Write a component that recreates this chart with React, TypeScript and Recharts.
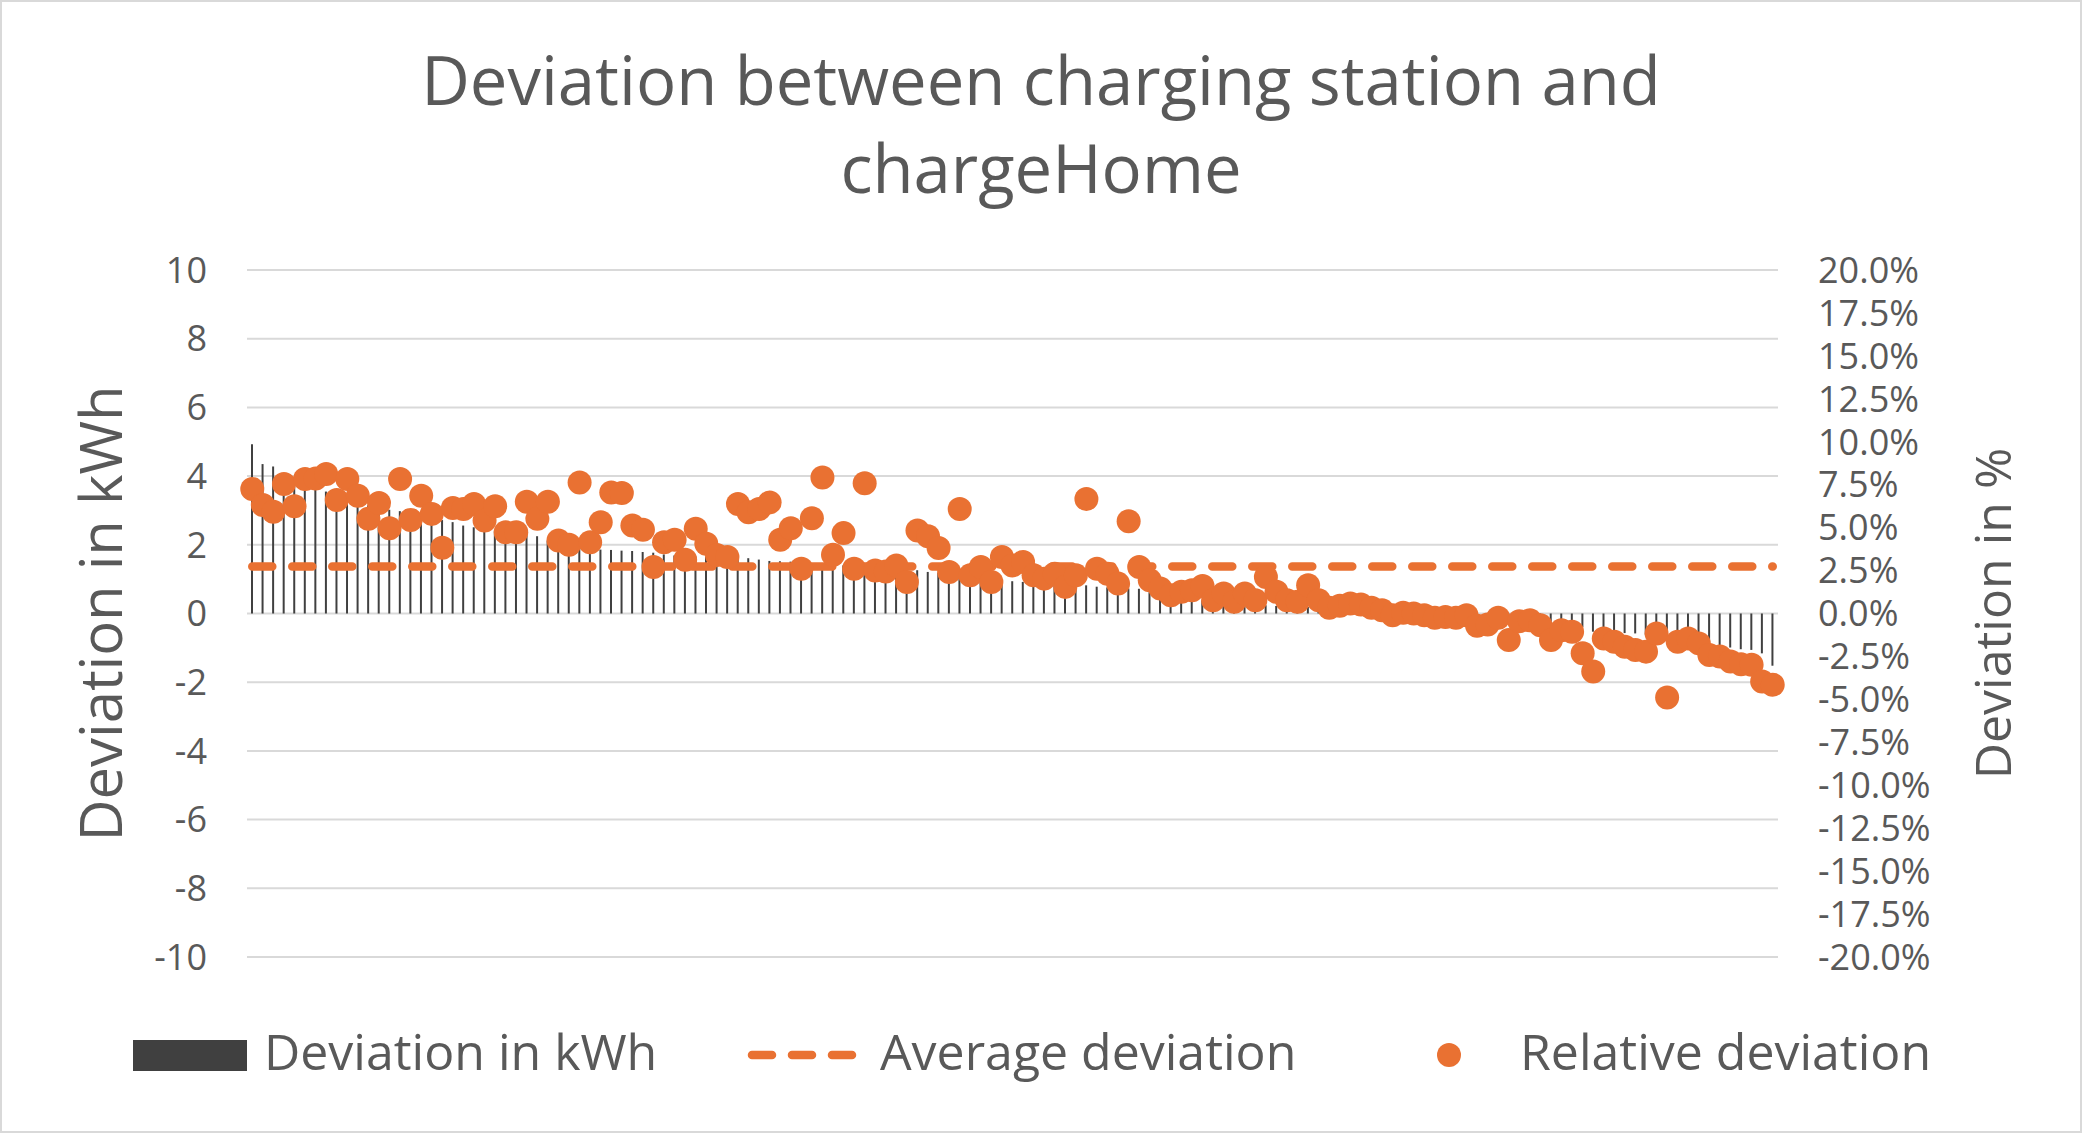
import { ComposedChart, Bar, Line, XAxis, YAxis, CartesianGrid } from 'recharts'

// kWh deviation per session, sorted descending
const deviationKwh = [
  4.93, 4.35, 4.28, 3.95, 3.85, 3.75, 3.65, 3.55, 3.45, 3.35,
  3.25, 3.15, 3.08, 3.02, 2.98, 2.92, 2.86, 2.78, 2.72, 2.66,
  2.56, 2.51, 2.46, 2.41, 2.37, 2.32, 2.28, 2.25, 2.12, 2.02,
  1.94, 1.9, 1.88, 1.86, 1.85, 1.83, 1.82, 1.79, 1.77, 1.72,
  1.69, 1.67, 1.66, 1.65, 1.64, 1.63, 1.62, 1.61, 1.57, 1.53,
  1.52, 1.51, 1.48, 1.46, 1.45, 1.42, 1.4, 1.37, 1.35, 1.32,
  1.3, 1.29, 1.27, 1.26, 1.21, 1.19, 1.1, 1.02, 0.99, 0.97,
  0.96, 0.95, 0.94, 0.92, 0.9, 0.88, 0.86, 0.85, 0.84, 0.82,
  0.78, 0.76, 0.75, 0.73, 0.72, 0.62, 0.58, 0.55, 0.5, 0.45,
  0.38, 0.33, 0.3, 0.28, 0.26, 0.25, 0.24, 0.22, 0.21, 0.2,
  0.19, 0.18, 0.15, 0.13, 0.11, 0.09, 0.07, 0.05, 0.03, 0.02,
  0.01, -0.01, -0.03, -0.05, -0.07, -0.09, -0.11, -0.13, -0.15, -0.17,
  -0.19, -0.21, -0.22, -0.24, -0.25, -0.29, -0.4, -0.53, -0.55, -0.56,
  -0.57, -0.58, -0.62, -0.7, -0.77, -0.78, -0.8, -0.85, -0.9, -0.94,
  -0.99, -1.04, -1.06, -1.16, -1.52,
]

// relative deviation in % (the orange dots)
const relativeDeviation = [
  7.25, 6.32, 5.93, 7.54, 6.24, 7.83, 7.86, 8.12, 6.61, 7.83,
  6.86, 5.51, 6.43, 4.97, 7.83, 5.45, 6.86, 5.8, 3.83, 6.14,
  6.09, 6.38, 5.41, 6.24, 4.73, 4.73, 6.51, 5.51, 6.51, 4.25,
  4.0, 7.63, 4.15, 5.31, 7.05, 7.02, 5.12, 4.87, 2.71, 4.15,
  4.29, 3.13, 4.93, 4.06, 3.4, 3.29, 6.38, 5.89, 6.09, 6.47,
  4.29, 4.97, 2.61, 5.55, 7.92, 3.42, 4.68, 2.61, 7.59, 2.51,
  2.45, 2.8, 1.84, 4.83, 4.5, 3.81, 2.42, 6.09, 2.22, 2.71,
  1.84, 3.29, 2.8, 3.0, 2.22, 2.03, 2.32, 1.55, 2.22, 6.67,
  2.61, 2.32, 1.74, 5.37, 2.71, 1.93, 1.45, 1.06, 1.26, 1.35,
  1.6, 0.77, 1.16, 0.68, 1.16, 0.77, 2.13, 1.26, 0.77, 0.68,
  1.64, 0.77, 0.33, 0.45, 0.58, 0.52, 0.33, 0.19, -0.1, 0.04,
  0.0, -0.1, -0.25, -0.2, -0.25, -0.1, -0.71, -0.64, -0.25, -1.55,
  -0.45, -0.39, -0.68, -1.55, -0.97, -1.06, -2.32, -3.38, -1.45, -1.64,
  -1.93, -2.12, -2.22, -1.16, -4.89, -1.64, -1.45, -1.74, -2.42, -2.51,
  -2.8, -2.96, -2.99, -3.96, -4.15,
]

const averageDeviation = 1.37

const kwhTicks = [-10, -8, -6, -4, -2, 0, 2, 4, 6, 8, 10]
const pctTicks = [
  -20, -17.5, -15, -12.5, -10, -7.5, -5, -2.5, 0, 2.5, 5, 7.5, 10, 12.5, 15, 17.5, 20,
]

const FONT = '"Open Sans", sans-serif'
const TEXT = '#595959'
const ORANGE = '#E97132'
const DARK = '#404040'

const data = deviationKwh.map((v, i) => ({
  id: i + 1,
  kwh: v,
  avg: averageDeviation,
  rel: relativeDeviation[i],
}))

function AxisTitle({ viewBox, cx, text, size }: any) {
  const y = viewBox.y + viewBox.height / 2
  return (
    <text
      x={cx}
      y={y}
      transform={`rotate(-90 ${cx} ${y})`}
      textAnchor="middle"
      dominantBaseline="central"
      fontSize={size}
      fill={TEXT}
      fontFamily={FONT}
    >
      {text}
    </text>
  )
}

export default function App() {
  const legendText = {
    position: 'absolute' as const,
    top: 1051,
    transform: 'translateY(-50%)',
    fontSize: 50,
    lineHeight: '60px',
    color: TEXT,
    fontFamily: FONT,
    whiteSpace: 'nowrap' as const,
  }

  return (
    <div
      style={{
        position: 'absolute',
        left: 0,
        top: 0,
        width: 2082,
        height: 1133,
        background: '#fff',
        fontFamily: FONT,
      }}
    >
      <div
        style={{
          position: 'absolute',
          left: 0,
          top: 35,
          width: 2082,
          textAlign: 'center',
          fontSize: 67,
          lineHeight: '88px',
          color: TEXT,
        }}
      >
        Deviation between charging station and
        <br />
        chargeHome
      </div>

      <div style={{ position: 'absolute', left: 0, top: 0 }}>
        <ComposedChart
          width={2082}
          height={1133}
          data={data}
          margin={{ top: 270, right: 0, bottom: 176, left: 0 }}
        >
          <CartesianGrid
            yAxisId="left"
            vertical={false}
            stroke="#d9d9d9"
            strokeWidth={2}
          />
          <XAxis dataKey="id" type="category" hide />
          <YAxis
            yAxisId="left"
            orientation="left"
            width={247}
            domain={[-10, 10]}
            ticks={kwhTicks}
            interval={0}
            axisLine={false}
            tickLine={false}
            tickSize={0}
            tickMargin={40}
            tick={{ fill: TEXT, fontSize: 36, fontFamily: FONT }}
            label={<AxisTitle cx={99} text="Deviation in kWh" size={58} />}
          />
          <YAxis
            yAxisId="right"
            orientation="right"
            width={304}
            domain={[-20, 20]}
            ticks={pctTicks}
            interval={0}
            axisLine={false}
            tickLine={false}
            tickSize={0}
            tickMargin={40}
            tickFormatter={(v: number) => `${v.toFixed(1)}%`}
            tick={{ fill: TEXT, fontSize: 36, fontFamily: FONT, textAnchor: 'start' }}
            label={<AxisTitle cx={1992} text="Deviation in %" size={50} />}
          />
          <Bar
            yAxisId="left"
            dataKey="kwh"
            fill={DARK}
            barSize={2}
            isAnimationActive={false}
          />
          <Line
            yAxisId="left"
            dataKey="avg"
            stroke={ORANGE}
            strokeWidth={8.5}
            strokeDasharray="20 20"
            strokeLinecap="round"
            dot={false}
            activeDot={false}
            isAnimationActive={false}
          />
          <Line
            yAxisId="right"
            dataKey="rel"
            stroke="none"
            dot={{ r: 12, fill: ORANGE, stroke: 'none' }}
            activeDot={false}
            isAnimationActive={false}
          />
        </ComposedChart>
      </div>

      {/* legend */}
      <div
        style={{
          position: 'absolute',
          left: 133,
          top: 1040,
          width: 114,
          height: 31,
          background: DARK,
        }}
      />
      <div style={{ ...legendText, left: 264 }}>Deviation in kWh</div>
      <svg
        style={{ position: 'absolute', left: 740, top: 1039 }}
        width={130}
        height={32}
      >
        <line
          x1={12}
          y1={16}
          x2={114}
          y2={16}
          stroke={ORANGE}
          strokeWidth={8.5}
          strokeDasharray="20 20"
          strokeLinecap="round"
        />
      </svg>
      <div style={{ ...legendText, left: 880 }}>Average deviation</div>
      <svg
        style={{ position: 'absolute', left: 1435, top: 1041 }}
        width={28}
        height={28}
      >
        <circle cx={14} cy={14} r={12} fill={ORANGE} />
      </svg>
      <div style={{ ...legendText, left: 1520 }}>Relative deviation</div>

      <div
        style={{
          position: 'absolute',
          left: 0,
          top: 0,
          width: 2082,
          height: 1133,
          border: '2px solid #d9d9d9',
          boxSizing: 'border-box',
          pointerEvents: 'none',
        }}
      />
    </div>
  )
}
